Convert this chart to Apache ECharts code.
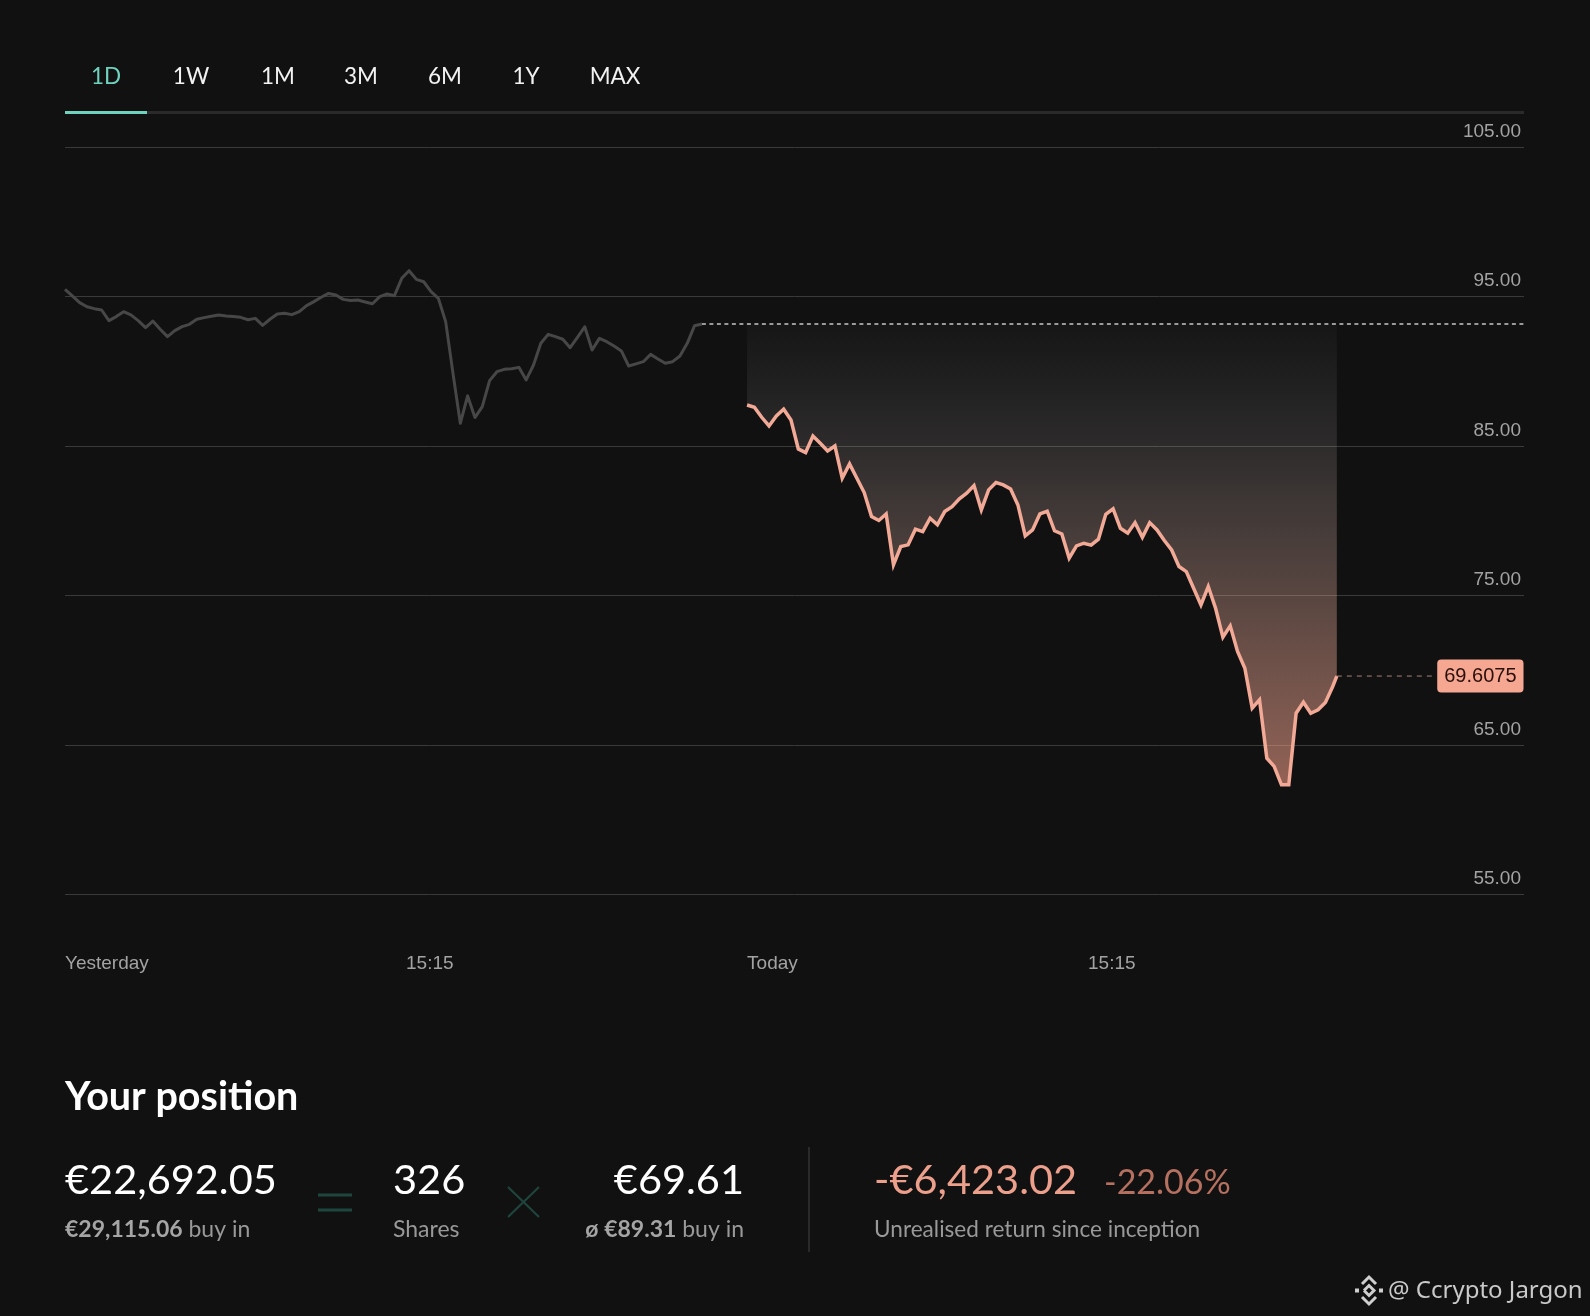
<!DOCTYPE html>
<html>
<head>
<meta charset="utf-8">
<style>html,body{margin:0;padding:0;background:#111112}#c{width:1590px;height:1316px}</style>
<script src="https://cdn.jsdelivr.net/npm/echarts@6/dist/echarts.min.js"></script>
</head>
<body>
<div id="c"></div>
<script>
const yesterdayPrices = [95.49,95.05,94.60,94.33,94.20,94.11,93.40,93.67,94.00,93.78,93.40,92.93,93.37,92.82,92.33,92.73,93.00,93.15,93.49,93.60,93.69,93.78,93.71,93.67,93.62,93.46,93.55,93.08,93.49,93.84,93.89,93.80,94.00,94.40,94.67,94.96,95.22,95.11,94.82,94.74,94.78,94.65,94.53,95.00,95.18,95.07,96.23,96.74,96.16,96.00,95.34,94.89,93.33,89.87,86.53,88.36,86.91,87.64,89.38,89.98,90.14,90.18,90.27,89.43,90.43,91.88,92.48,92.33,92.15,91.59,92.28,92.99,91.43,92.21,91.99,91.70,91.37,90.36,90.50,90.65,91.14,90.83,90.54,90.65,91.03,91.88,93.06,93.17];
const todayPrices = [87.75,87.60,86.93,86.35,87.02,87.47,86.75,84.81,84.57,85.68,85.19,84.68,85.01,82.85,83.81,82.85,81.89,80.28,80.02,80.46,77.05,78.28,78.39,79.44,79.28,80.17,79.73,80.62,80.95,81.47,81.85,82.36,80.73,82.07,82.56,82.40,82.13,81.06,78.99,79.39,80.46,80.64,79.33,79.12,77.50,78.32,78.50,78.37,78.77,80.44,80.80,79.50,79.17,79.88,78.90,79.88,79.39,78.68,78.05,76.94,76.60,75.49,74.37,75.60,74.15,72.21,72.97,71.25,70.13,67.46,68.02,64.11,63.56,62.33,62.33,67.12,67.86,67.12,67.35,67.84,68.91,69.6075];
const referencePrice = 93.17;
const currentPrice = 69.6075;
const sampleCount = 199.3;       // samples across the whole x axis
const todayStartSample = 93.17;  // sample at which "Today" begins
const todayLastOffset = 80.56;   // the latest quote arrives early in its slot
const priceLabelSample = 186.9;  // where the current-price tag sits
const xTickSamples = [0, 46.58, 93.17, 139.75];
const xTickLabels = ['Yesterday', '15:15', 'Today', '15:15'];
const tabs = ['1D','1W','1M','3M','6M','1Y','MAX'];
const tabCenters = [106,191,278,361,445,526,615];

const UI = 'Lato, "Noto Sans", sans-serif';
const AX = '"Liberation Sans", Arial, sans-serif';
const bg = '#111112', coral = '#f2a996';

const txt = (x, y, text, size, fill, o = {}) => ({
  type: 'text', x, y, silent: true,
  style: Object.assign({ text, fontSize: size, fill, fontFamily: UI, verticalAlign: 'middle', align: 'left' }, o)
});
const ln = (x1, y1, x2, y2, stroke, w) => ({ type: 'line', silent: true, shape: { x1, y1, x2, y2 }, style: { stroke, lineWidth: w } });
const poly = (points, stroke, w) => ({ type: 'polyline', silent: true, shape: { points }, style: { stroke, lineWidth: w, fill: null } });
const subRich = { b: { fontSize: 23, fontWeight: 'bold', fill: '#a5a5a5', fontFamily: UI }, n: { fontSize: 23, fill: '#999', fontFamily: UI } };

const graphic = [
  ln(65, 112.5, 1524, 112.5, '#2a2a2a', 3),
  ln(65, 112.5, 147, 112.5, '#6fd2bd', 3),
  ...tabs.map((t, i) => txt(tabCenters[i], 77, t, 22.5, i === 0 ? '#6fd2bd' : '#f2f2f2', { align: 'center' })),
  txt(65, 1097, 'Your position', 39.5, '#ffffff', { fontWeight: 'bold' }),
  txt(65, 1181, '€22,692.05', 41.5, '#ffffff'),
  txt(65, 1230, '{b|€29,115.06} {n|buy in}', 23, '#9a9a9a', { rich: subRich }),
  ln(318, 1195, 352, 1195, '#1f463d', 3), ln(318, 1210, 352, 1210, '#1f463d', 3),
  txt(393, 1181, '326', 41.5, '#ffffff'),
  txt(393, 1230, 'Shares', 23, '#999999'),
  ln(508, 1187, 539, 1217, '#1f463d', 2), ln(539, 1187, 508, 1217, '#1f463d', 2),
  txt(744, 1181, '€69.61', 41.5, '#ffffff', { align: 'right' }),
  txt(744, 1230, '{b|ø €89.31} {n|buy in}', 23, '#9a9a9a', { align: 'right', rich: subRich }),
  ln(809, 1147, 809, 1252, '#333333', 1.5),
  txt(874, 1181, '-€6,423.02', 41.5, '#ec9f8b'),
  txt(1104, 1183, '-22.06%', 34, '#b5705f'),
  txt(874, 1230, 'Unrealised return since inception', 22.6, '#999999'),
  txt(1388, 1291, '@ Ccrypto Jargon', 24, '#c9c9c9', { fontFamily: '"Noto Sans", sans-serif' }),
  poly([[1362, 1284], [1369, 1277], [1376, 1284]], '#cfcfcf', 3),
  poly([[1362, 1297], [1369, 1304], [1376, 1297]], '#cfcfcf', 3),
  poly([[1364, 1290.5], [1369, 1285.5], [1374, 1290.5], [1369, 1295.5], [1364, 1290.5]], '#cfcfcf', 3),
  poly([[1355, 1290.5], [1359, 1290.5]], '#cfcfcf', 4),
  poly([[1379, 1290.5], [1383, 1290.5]], '#cfcfcf', 4)
];

const chart = echarts.init(document.getElementById('c'), null, { renderer: 'canvas' });
chart.setOption({
  backgroundColor: bg,
  animation: false,
  grid: { left: 65, right: 66, top: 147.3, bottom: 1316 - 894.3, containLabel: false },
  xAxis: {
    type: 'value', min: 0, max: sampleCount, splitLine: { show: false },
    axisLine: { show: false }, axisTick: { show: false },
    axisLabel: {
      customValues: xTickSamples, align: 'left', margin: 60, fontFamily: AX, fontSize: 19, color: '#a3a3a3',
      formatter: v => xTickLabels[xTickSamples.indexOf(v)] || ''
    }
  },
  yAxis: {
    type: 'value', min: 55, max: 105, interval: 10, position: 'right',
    axisLine: { show: false }, axisTick: { show: false },
    splitLine: { lineStyle: { color: '#3a3a3a', width: 1 } },
    axisLabel: {
      inside: true, margin: 3, align: 'right', verticalAlign: 'bottom', lineHeight: 31, fontFamily: AX, fontSize: 19, color: '#a3a3a3',
      formatter: v => v.toFixed(2)
    }
  },
  graphic,
  series: [
    { name: 'Yesterday', type: 'line', symbol: 'none', z: 3,
      lineStyle: { color: '#474747', width: 3, join: 'round' },
      data: yesterdayPrices.map((p, i) => [i, p]) },
    { name: 'Reference', type: 'line', symbol: 'none', z: 2,
      lineStyle: { color: '#999999', width: 2, type: [4, 3.5] },
      data: [[yesterdayPrices.length - 1, referencePrice], [sampleCount, referencePrice]] },
    { name: 'Today', type: 'line', symbol: 'none', z: 4,
      lineStyle: { color: coral, width: 3.5, join: 'miter' },
      areaStyle: {
        origin: referencePrice,
        color: new echarts.graphic.LinearGradient(0, 0, 0, 1, [
          { offset: 0, color: 'rgba(255,245,240,0.03)' },
          { offset: 0.25, color: 'rgba(255,235,225,0.16)' },
          { offset: 0.6, color: 'rgba(255,190,170,0.44)' },
          { offset: 1, color: 'rgba(255,165,140,0.78)' }
        ])
      },
      data: todayPrices.map((p, i) => [todayStartSample + (i === todayPrices.length - 1 ? todayLastOffset : i), p]) },
    { name: 'Current', type: 'line', symbol: 'none', z: 3,
      lineStyle: { color: '#8f6f67', width: 1.2, type: [5, 5] },
      endLabel: { show: true, distance: 4, formatter: () => currentPrice.toFixed(4),
        backgroundColor: '#f5a792', color: '#2a0f0a', borderRadius: 4, padding: [7, 7, 6, 7],
        fontFamily: AX, fontSize: 20 },
      data: [[todayStartSample + todayLastOffset, currentPrice], [priceLabelSample, currentPrice]] }
  ]
});
</script>
</body>
</html>
